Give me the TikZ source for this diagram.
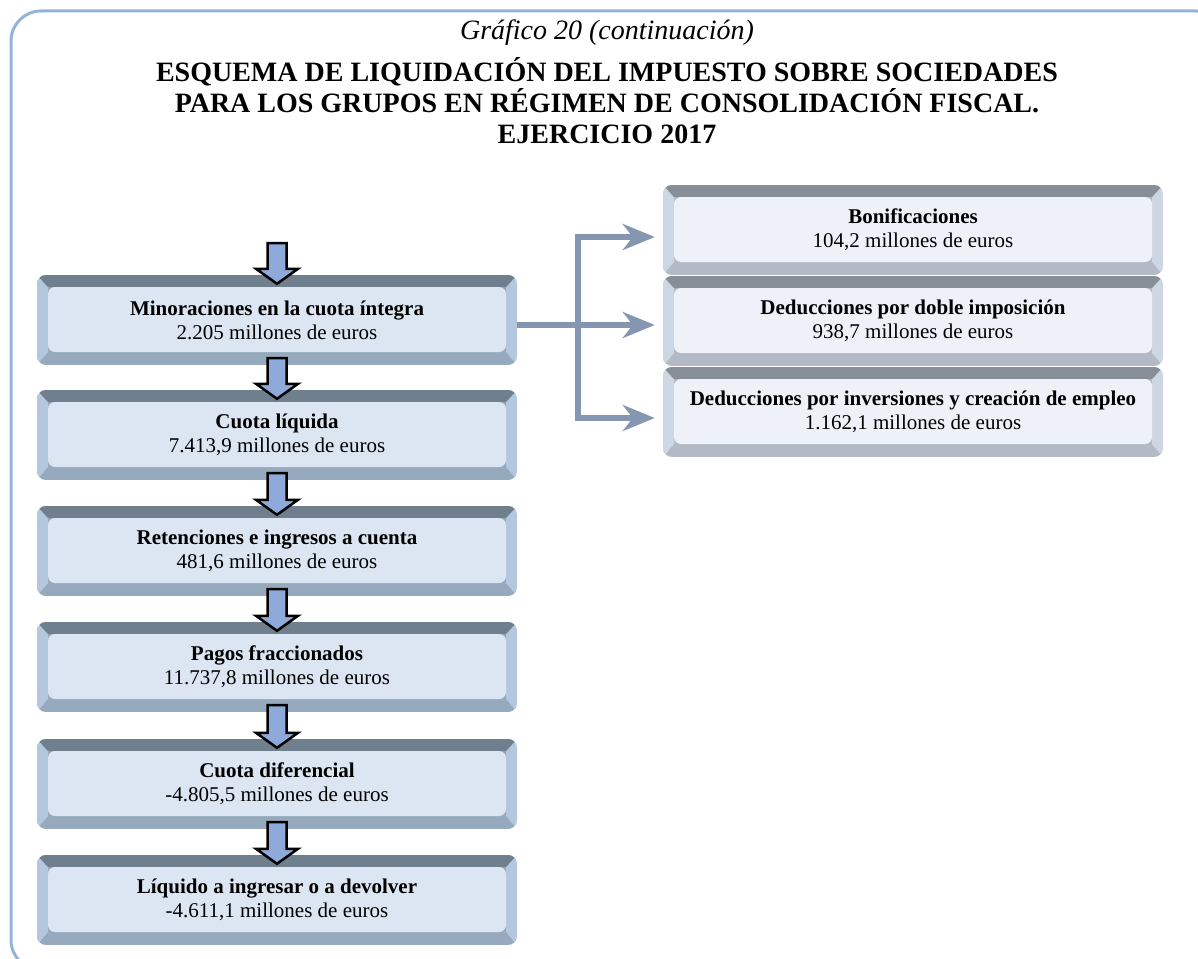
\documentclass[tikz,border=0pt]{standalone}
\usepackage{fontspec}
\setmainfont{Liberation Serif}
\usetikzlibrary{calc,arrows.meta}
\definecolor{marco}{HTML}{95B3D7}
\definecolor{bandaazul}{HTML}{6F7F8E}
\definecolor{ladoazul}{HTML}{B3C7DE}
\definecolor{baseazul}{HTML}{97A9BD}
\definecolor{fondoazul}{HTML}{DCE6F2}
\definecolor{bandagris}{HTML}{868E98}
\definecolor{ladogris}{HTML}{CDD7E3}
\definecolor{basegris}{HTML}{B3BAC5}
\definecolor{fondogris}{HTML}{EEF2F8}
\definecolor{conector}{HTML}{8496B0}
\definecolor{flechaazul}{HTML}{8EAADB}

\newcommand{\bisel}[4]{%
\coordinate (so) at (path picture bounding box.south west);
\coordinate (ne) at (path picture bounding box.north east);
\coordinate (no) at (path picture bounding box.north west);
\coordinate (se) at (path picture bounding box.south east);
\fill[#3,sharp corners] (so) rectangle (ne);
\fill[#2,sharp corners] (so) -- (no) -- ($(no)+(11,12)$) -- ($(so)+(11,-13)$) -- cycle;
\fill[#2,sharp corners] (se) -- (ne) -- ($(ne)+(-11,12)$) -- ($(se)+(-11,-13)$) -- cycle;
\fill[#1,sharp corners] (no) -- (ne) -- ($(ne)+(-11,12)$) -- ($(no)+(11,12)$) -- cycle;
\fill[#4,rounded corners=7] ($(no)+(11,12)$) rectangle ($(se)+(-11,-13)$);
}

\newcommand{\flecha}[2]{%
\draw[flecha] let \p1=(#1), \p2=(#2) in (\x2,\y2) -- ++(-21,-15) -- ++(11.5,0)
  -- (\x2-9.5pt,\y1) -- (\x2+9.5pt,\y1) -- (\x2+9.5pt,\y2+15pt) -- ++(11.5,0) -- cycle;
}

\tikzset{
  caja/.style={minimum width=480, minimum height=90, inner sep=0pt, align=center,
    rounded corners=9, font=\fontsize{21}{24}\selectfont,
    path picture={\bisel{bandaazul}{ladoazul}{baseazul}{fondoazul}}},
  cajagris/.style={caja, minimum width=500,
    path picture={\bisel{bandagris}{ladogris}{basegris}{fondogris}}},
  flecha/.style={fill=flechaazul, draw=black, line width=2.5, line join=miter, sharp corners},
  rama/.style={draw=conector, line width=6, shorten >=8pt,
    -{Stealth[length=32pt,width=26pt,inset=10pt]}},
}

\begin{document}
\begin{tikzpicture}[x=1pt, y=-1pt]
\useasboundingbox (0,0) rectangle (1198,958);
\clip (0,0) rectangle (1198,958);
\draw[marco, line width=3, rounded corners=30] (11,11) rectangle (1225,970);

\node (tit0) at (607,33) {\fontsize{28}{31}\selectfont\itshape Gráfico 20 (continuación)};
\node (tit) at (607,101) [align=center, font=\fontsize{28}{31}\selectfont\bfseries]
  {ESQUEMA DE LIQUIDACIÓN DEL IMPUESTO SOBRE SOCIEDADES\\
   PARA LOS GRUPOS EN RÉGIMEN DE CONSOLIDACIÓN FISCAL.\\
   EJERCICIO 2017};

\node[caja] (m1) at (277,320) {\textbf{Minoraciones en la cuota íntegra}\\2.205 millones de euros};
\node[caja] (m2) at (277,435) {\textbf{Cuota líquida}\\7.413,9 millones de euros};
\node[caja] (m3) at (277,551) {\textbf{Retenciones e ingresos a cuenta}\\481,6 millones de euros};
\node[caja] (m4) at (277,667) {\textbf{Pagos fraccionados}\\11.737,8 millones de euros};
\node[caja] (m5) at (277,784) {\textbf{Cuota diferencial}\\-4.805,5 millones de euros};
\node[caja] (m6) at (277,900) {\textbf{Líquido a ingresar o a devolver}\\-4.611,1 millones de euros};

\node[cajagris] (b1) at (913,230) {\textbf{Bonificaciones}\\104,2 millones de euros};
\node[cajagris] (b2) at (913,321) {\textbf{Deducciones por doble imposición}\\938,7 millones de euros};
\node[cajagris] (b3) at (913,412) {\textbf{Deducciones por inversiones y creación de empleo}\\1.162,1 millones de euros};

\coordinate (inicio) at (277,243);
\coordinate (ramal) at (578,0);

\flecha{inicio}{$(m1.north)+(0,9)$}
\flecha{$(m1.south)+(0,-7)$}{$(m2.north)+(0,9)$}
\flecha{$(m2.south)+(0,-7)$}{$(m3.north)+(0,9)$}
\flecha{$(m3.south)+(0,-7)$}{$(m4.north)+(0,9)$}
\flecha{$(m4.south)+(0,-7)$}{$(m5.north)+(0,9)$}
\flecha{$(m5.south)+(0,-7)$}{$(m6.north)+(0,9)$}

\draw[rama] ($(m1.east)+(0,5)$) -- ($(m1.east -| b2.west)+(0,5)$);
\draw[rama, shorten <=8pt, {Stealth[length=32pt,width=26pt,inset=10pt]}-{Stealth[length=32pt,width=26pt,inset=10pt]}]
  ($(b1.west)+(0,7)$) -| ($(b3.west -| ramal)+(0,6)$) -- ($(b3.west)+(0,6)$);
\end{tikzpicture}
\end{document}
